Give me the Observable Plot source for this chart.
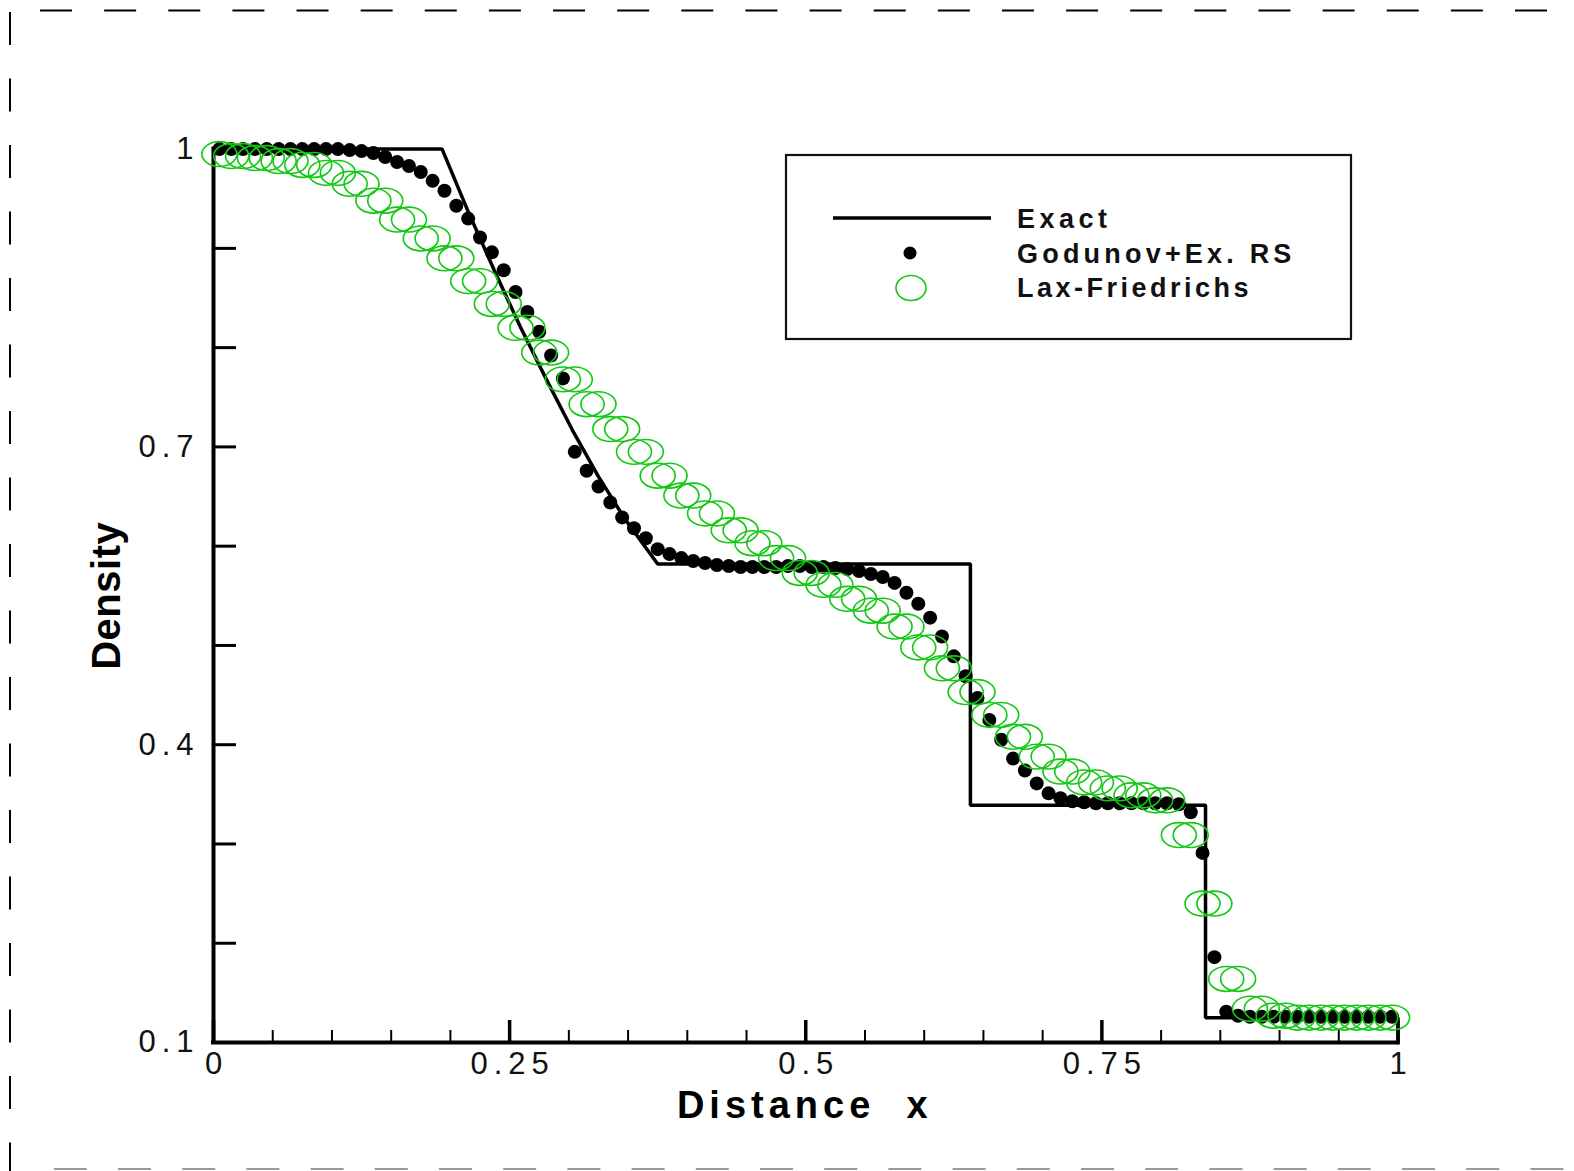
<!DOCTYPE html>
<html>
<head>
<meta charset="utf-8">
<script src="https://cdn.jsdelivr.net/npm/d3@7"></script>
<script src="https://cdn.jsdelivr.net/npm/@observablehq/plot@0.6"></script>
<style>
  html, body { margin: 0; padding: 0; background: #fff; }
  #wrap { position: relative; width: 1574px; height: 1171px; overflow: hidden; background: #fff; }
  #wrap > svg { position: absolute; left: 0; top: 0; }
</style>
</head>
<body>
<div id="wrap"></div>
<script>
// ---------------- data ----------------
const xCells = [
  0.005,0.015,0.025,0.035,0.045,0.055,0.065,0.075,0.085,0.095,
  0.105,0.115,0.125,0.135,0.145,0.155,0.165,0.175,0.185,0.195,
  0.205,0.215,0.225,0.235,0.245,0.255,0.265,0.275,0.285,0.295,
  0.305,0.315,0.325,0.335,0.345,0.355,0.365,0.375,0.385,0.395,
  0.405,0.415,0.425,0.435,0.445,0.455,0.465,0.475,0.485,0.495,
  0.505,0.515,0.525,0.535,0.545,0.555,0.565,0.575,0.585,0.595,
  0.605,0.615,0.625,0.635,0.645,0.655,0.665,0.675,0.685,0.695,
  0.705,0.715,0.725,0.735,0.745,0.755,0.765,0.775,0.785,0.795,
  0.805,0.815,0.825,0.835,0.845,0.855,0.865,0.875,0.885,0.895,
  0.905,0.915,0.925,0.935,0.945,0.955,0.965,0.975,0.985,0.995
];

const godunov = [
  1.000,1.000,1.000,1.000,1.000,1.000,1.000,1.000,1.000,1.000,
  1.000,0.999,0.998,0.996,0.992,0.987,0.983,0.977,0.968,0.958,
  0.943,0.930,0.911,0.896,0.878,0.856,0.836,0.816,0.792,0.769,
  0.695,0.676,0.660,0.644,0.629,0.618,0.608,0.597,0.592,0.588,
  0.585,0.583,0.581,0.580,0.579,0.579,0.579,0.579,0.580,0.580,
  0.579,0.579,0.578,0.577,0.575,0.572,0.569,0.563,0.553,0.542,
  0.528,0.509,0.489,0.469,0.447,0.425,0.405,0.386,0.374,0.361,
  0.351,0.346,0.343,0.342,0.341,0.341,0.341,0.341,0.341,0.341,
  0.341,0.340,0.332,0.291,0.186,0.131,0.127,0.126,0.126,0.126,
  0.126,0.126,0.126,0.126,0.126,0.126,0.126,0.126,0.126,0.126
];

const laxFriedrichs = [
  0.995,0.993,0.993,0.991,0.991,0.988,0.988,0.984,0.984,0.976,
  0.976,0.965,0.965,0.948,0.948,0.929,0.929,0.910,0.910,0.890,
  0.890,0.867,0.867,0.844,0.844,0.820,0.820,0.795,0.795,0.768,
  0.768,0.743,0.743,0.718,0.718,0.695,0.695,0.671,0.671,0.651,
  0.651,0.633,0.633,0.616,0.616,0.603,0.603,0.588,0.588,0.573,
  0.573,0.561,0.561,0.547,0.547,0.535,0.535,0.519,0.519,0.498,
  0.498,0.477,0.477,0.453,0.453,0.430,0.430,0.408,0.408,0.388,
  0.388,0.373,0.373,0.362,0.362,0.356,0.356,0.349,0.349,0.344,
  0.344,0.309,0.309,0.240,0.240,0.164,0.164,0.134,0.134,0.127,
  0.127,0.125,0.125,0.125,0.125,0.125,0.125,0.125,0.125,0.125
];

const exactX = [0, 0.193, 0.215, 0.237, 0.259, 0.281, 0.303, 0.325, 0.347, 0.375, 0.639, 0.639, 0.8375, 0.8375, 1.0, 1.0];
const exactY = [1, 1, 0.937, 0.878, 0.821, 0.768, 0.717, 0.670, 0.628, 0.582, 0.582, 0.339, 0.339, 0.125, 0.125, 0.1];

const xLabelTicks = [0, 0.25, 0.5, 0.75, 1];
const xMinorTicks = [0.05,0.1,0.15,0.2,0.3,0.35,0.4,0.45,0.55,0.6,0.65,0.7,0.8,0.85,0.9,0.95];
const yTicks = [0.1,0.2,0.3,0.4,0.5,0.6,0.7,0.8,0.9,1];
const yLabelTicks = [0.1, 0.4, 0.7, 1];
const legendLabels = ["Exact", "Godunov+Ex. RS", "Lax-Friedrichs"];
const xTitle = "Distance  x";
const yTitle = "Density";

// ---------------- build ----------------
const exact = exactX.map((x, i) => ({x, y: exactY[i]}));
const god = xCells.map((x, i) => ({x, y: godunov[i]}));
const lf = xCells.map((x, i) => ({x, y: laxFriedrichs[i]}));

const FONT = "'Liberation Sans', Arial, Helvetica, sans-serif";
const GREEN = "#12c812";

function ellipseSymbol(ratio) {
  return {
    draw(ctx, size) {
      const a = Math.sqrt(size / Math.PI), b = a * ratio, k = 0.5522847498;
      ctx.moveTo(a, 0);
      ctx.bezierCurveTo(a, k * b, k * a, b, 0, b);
      ctx.bezierCurveTo(-k * a, b, -a, k * b, -a, 0);
      ctx.bezierCurveTo(-a, -k * b, -k * a, -b, 0, -b);
      ctx.bezierCurveTo(k * a, -b, a, -k * b, a, 0);
      ctx.closePath();
    }
  };
}

const chart = Plot.plot({
  width: 1574,
  height: 1171,
  marginLeft: 213,
  marginRight: 176.5,
  marginTop: 148.6,
  marginBottom: 129,
  style: {fontFamily: FONT, background: "transparent", overflow: "visible", color: "#000"},
  x: {domain: [0, 1]},
  y: {domain: [0.1, 1]},
  marks: [
    Plot.line(exact, {x: "x", y: "y", stroke: "#000", strokeWidth: 3.5, strokeLinejoin: "miter", strokeLinecap: "square"}),
    Plot.ruleX([0], {stroke: "#000", strokeWidth: 4, strokeLinecap: "square"}),
    Plot.ruleY([0.1], {stroke: "#000", strokeWidth: 4, strokeLinecap: "square"}),
    Plot.axisX({ticks: xMinorTicks, tickSize: 12, dy: -12, strokeWidth: 2, fill: "none", label: null}),
    Plot.axisX({ticks: xLabelTicks, tickSize: 22, dy: -22, strokeWidth: 3.5, fill: "none", label: null}),
    Plot.axisX({ticks: xLabelTicks, tickSize: 0, stroke: "none", tickPadding: 9, dx: 3,
      tickFormat: d => String(d), fontSize: 31, fill: "#111", label: null}),
    Plot.axisY({ticks: yTicks, tickSize: 23, dx: 23, strokeWidth: 3, fill: "none", label: null}),
    Plot.axisY({ticks: yLabelTicks, tickSize: 0, stroke: "none", tickPadding: 14,
      tickFormat: d => String(d), fontSize: 31, fill: "#111", label: null}),
    Plot.dot(god, {x: "x", y: "y", r: 7, fill: "#000", stroke: "none"}),
    Plot.dot(lf, {x: "x", y: "y", r: 17.5, symbol: ellipseSymbol(0.71), stroke: GREEN, strokeWidth: 1.6, fill: "none"}),
    Plot.text([xTitle], {frameAnchor: "bottom", textAnchor: "middle", lineAnchor: "middle", dy: 63, dx: -1,
      fontSize: 38, fontWeight: "bold", fill: "#000", fontFamily: FONT}),
    Plot.text([yTitle], {frameAnchor: "left", textAnchor: "middle", lineAnchor: "middle", dx: -106, rotate: -90,
      fontSize: 40, fontWeight: "bold", fill: "#000", fontFamily: FONT})
  ]
});

// text styling (letter spacing as in the original)
d3.select(chart).selectAll("text").each(function() {
  const t = this.textContent;
  const s = d3.select(this);
  if (t === xTitle) s.style("letter-spacing", "5px").style("white-space", "pre");
  else if (t === yTitle) s.style("letter-spacing", "0.5px");
  else s.style("letter-spacing", "6px");
});

const wrap = document.getElementById("wrap");
wrap.appendChild(chart);

// ---------------- overlay: page border and legend ----------------
const ov = d3.create("svg")
  .attr("width", 1574).attr("height", 1171)
  .style("pointer-events", "none")
  .style("font-family", FONT);

ov.append("line").attr("x1", 40).attr("x2", 1548).attr("y1", 10.5).attr("y2", 10.5)
  .attr("stroke", "#000").attr("stroke-width", 2).attr("stroke-dasharray", "32 32.13");
ov.append("line").attr("x1", 10).attr("x2", 10).attr("y1", 12).attr("y2", 1171)
  .attr("stroke", "#000").attr("stroke-width", 2).attr("stroke-dasharray", "33 33.5");
ov.append("line").attr("x1", 53.8).attr("x2", 1574).attr("y1", 1169).attr("y2", 1169)
  .attr("stroke", "#9a9a9a").attr("stroke-width", 2).attr("stroke-dasharray", "33 31.2");

const lg = ov.append("g");
lg.append("rect").attr("x", 786).attr("y", 155).attr("width", 565).attr("height", 184)
  .attr("fill", "none").attr("stroke", "#111").attr("stroke-width", 2.2);
lg.append("line").attr("x1", 833).attr("x2", 991).attr("y1", 218).attr("y2", 218)
  .attr("stroke", "#000").attr("stroke-width", 3.5);
lg.append("circle").attr("cx", 910).attr("cy", 253).attr("r", 6.5).attr("fill", "#000");
lg.append("ellipse").attr("cx", 911).attr("cy", 288).attr("rx", 15).attr("ry", 12.5)
  .attr("fill", "none").attr("stroke", GREEN).attr("stroke-width", 1.6);
const baselines = [227.5, 262.5, 296.5];
const spacings = [4.5, 4.2, 3.5];
legendLabels.forEach((label, i) => {
  lg.append("text").attr("x", 1017).attr("y", baselines[i])
    .attr("font-size", 27).attr("font-weight", "bold").attr("fill", "#111")
    .style("letter-spacing", spacings[i] + "px").text(label);
});

wrap.appendChild(ov.node());
</script>
</body>
</html>
